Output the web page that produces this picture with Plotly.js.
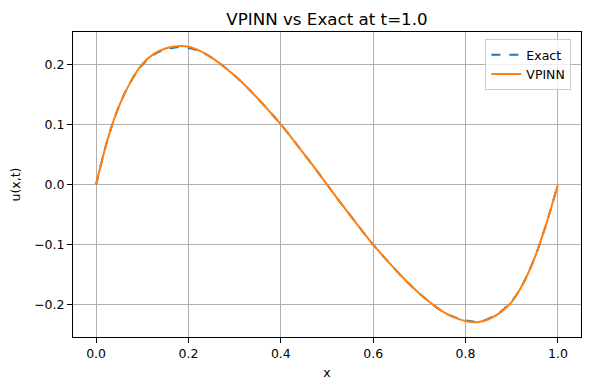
<!DOCTYPE html>
<html>
<head>
<meta charset="utf-8">
<script src="https://cdn.plot.ly/plotly-3.0.1.min.js"></script>
<style>
  body { margin: 0; background: #fff; }
  #chart { width: 590px; height: 390px; }
</style>
</head>
<body>
<div id="chart"></div>
<script>
// values (step 0.025 in x)
const xs = [0, 0.025, 0.05, 0.075, 0.1, 0.125, 0.15, 0.175, 0.2, 0.225,
            0.25, 0.275, 0.3, 0.325, 0.35, 0.375, 0.4, 0.425, 0.45, 0.475,
            0.5, 0.525, 0.55, 0.575, 0.6, 0.625, 0.65, 0.675, 0.7, 0.725,
            0.75, 0.775, 0.8, 0.825, 0.85, 0.875, 0.9, 0.925, 0.95, 0.975, 1.0];
const exactU = [0, 0.075, 0.131, 0.171, 0.199, 0.216, 0.224, 0.228, 0.227, 0.221,
                0.211, 0.197, 0.181, 0.163, 0.143, 0.122, 0.100, 0.076, 0.051, 0.026,
                0.0, -0.026, -0.051, -0.076, -0.100, -0.122, -0.143, -0.163, -0.181, -0.197,
                -0.211, -0.220, -0.226, -0.228, -0.223, -0.212, -0.194, -0.164, -0.121, -0.065, 0];
const vpinnU = [0, 0.075, 0.131, 0.171, 0.200, 0.217, 0.226, 0.230, 0.229, 0.222,
                0.211, 0.197, 0.181, 0.163, 0.143, 0.122, 0.100, 0.076, 0.051, 0.026,
                0.0, -0.026, -0.051, -0.076, -0.100, -0.122, -0.143, -0.163, -0.181, -0.197,
                -0.211, -0.221, -0.227, -0.229, -0.224, -0.213, -0.195, -0.164, -0.121, -0.065, 0];
const xTicks = [0, 0.2, 0.4, 0.6, 0.8, 1.0];
const yTicks = [-0.2, -0.1, 0.0, 0.1, 0.2];

function initPlot() {
  const plotDiv = document.getElementById("chart");

  const exact = {
    x: xs,
    y: exactU,
    mode: 'lines',
    name: 'Exact',
    line: { color: '#1f77b4', width: 2, dash: 'dash', shape: 'spline', smoothing: 1 },
  };

  const vpinn = {
    x: xs,
    y: vpinnU,
    mode: 'lines',
    name: 'VPINN',
    line: { color: '#ff7f0e', width: 2, shape: 'spline', smoothing: 1 },
  };

  const axisFont = { family: 'DejaVu Sans', size: 12.5, color: '#000' };

  const layout = {
    width: 590,
    height: 390,
    margin: { l: 73, r: 9, t: 32, b: 53 },
    paper_bgcolor: '#fff',
    plot_bgcolor: '#fff',
    font: { family: 'DejaVu Sans', color: '#000' },
    title: {
      text: 'VPINN vs Exact at t=1.0',
      font: { family: 'DejaVu Sans', size: 16.7, color: '#000' },
      x: 0.5,
      xref: 'paper',
      xanchor: 'center',
      y: 1,
      yref: 'paper',
      yanchor: 'bottom',
      pad: { b: 7 },
    },
    xaxis: {
      title: { text: 'x', font: axisFont, standoff: 8 },
      range: [-0.05, 1.05],
      tickvals: xTicks,
      tickformat: '.1f',
      tickfont: axisFont,
      ticks: 'outside',
      ticklen: 5,
      tickcolor: '#000',
      showgrid: true,
      gridcolor: '#b0b0b0',
      gridwidth: 1,
      zeroline: false,
      showline: true,
      linecolor: '#000',
      linewidth: 1,
      mirror: true,
    },
    yaxis: {
      title: { text: 'u(x,t)', font: axisFont, standoff: 10 },
      range: [-0.2535, 0.2535],
      tickvals: yTicks,
      tickformat: '.1f',
      tickfont: axisFont,
      ticks: 'outside',
      ticklen: 5,
      tickcolor: '#000',
      showgrid: true,
      gridcolor: '#b0b0b0',
      gridwidth: 1,
      zeroline: false,
      showline: true,
      linecolor: '#000',
      linewidth: 1,
      mirror: true,
    },
    legend: {
      x: 0.981,
      y: 0.977,
      xanchor: 'right',
      yanchor: 'top',
      bgcolor: 'rgba(255,255,255,0.8)',
      bordercolor: '#cccccc',
      borderwidth: 1,
      font: { family: 'DejaVu Sans', size: 12.5, color: '#000' },
      tracegroupgap: 0,
      itemwidth: 30,
    },
    showlegend: true,
  };

  Plotly.newPlot(plotDiv, [exact, vpinn], layout, { displayModeBar: false, staticPlot: true });
}

document.addEventListener("DOMContentLoaded", initPlot);
</script>
</body>
</html>
